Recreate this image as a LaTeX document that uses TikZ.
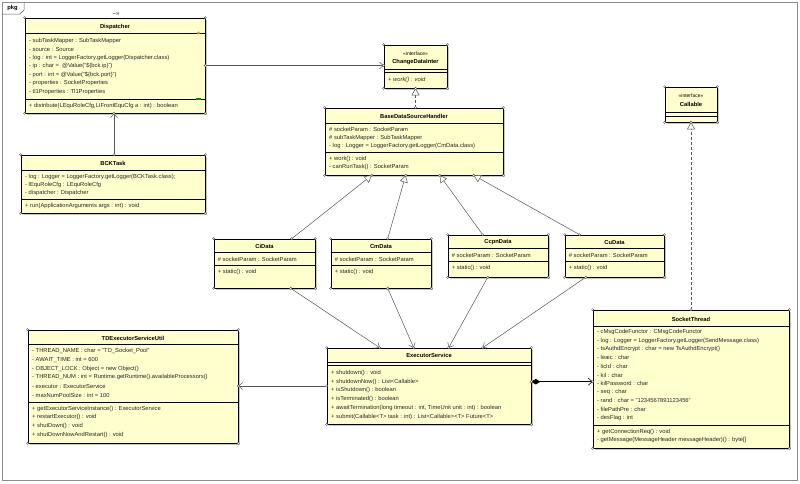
\documentclass[tikz,border=0pt]{standalone}
\usepackage{fontspec}
\setmainfont{Liberation Sans}
\usetikzlibrary{arrows.meta,fit,calc,shadows}
\definecolor{umlfill}{RGB}{255,255,206}
\definecolor{lnk}{RGB}{85,85,85}
\tikzset{
 classbox/.style={draw=black, line width=0.6pt, fill=umlfill, inner sep=0pt,
   drop shadow={shadow xshift=1.6pt, shadow yshift=-1.6pt, fill=black, opacity=0.22}},
 txt/.style={anchor=west, inner sep=0pt, font=\fontsize{5.8}{6}\selectfont, text=black!85},
 ttl/.style={inner sep=0pt, font=\fontsize{5.8}{6}\selectfont\bfseries},
 ster/.style={inner sep=0pt, font=\fontsize{5}{6}\selectfont},
 sepline/.style={draw=black, line width=0.5pt},
 assoc/.style={draw=lnk, line width=0.5pt, -{Straight Barb[length=4pt,width=7pt]}},
 gen/.style={draw=lnk, line width=0.5pt, -{Triangle[open, length=7pt, width=8pt, fill=white]}},
 real/.style={gen, dash pattern=on 3pt off 2pt},
 comp/.style={draw=black, line width=0.6pt, {Diamond[length=9pt,width=5.5pt]}-{Straight Barb[length=4pt,width=7pt]}},
 hdl/.style={fill=white, draw=black!75, line width=0.3pt},
}
\newcommand\dataclass[6]{%
 \node[classbox, fit={(#3,#4) (#5,#6)}] (#1) {};
 \node[ttl] (#1T) at ($(#1.north)+(0,7.5)$) {#2};
 \draw[sepline] ($(#1.north west)+(0,14)$) -- ($(#1.north east)+(0,14)$);
 \node[txt] (#1A0) at ($(#1.north west)+(4,20.5)$) {\# socketParam : SocketParam};
 \draw[sepline] ($(#1.north west)+(0,26.5)$) -- ($(#1.north east)+(0,26.5)$);
 \node[txt] (#1M0) at ($(#1.north west)+(4,33)$) {+ static() : void};
}
\begin{document}
\begin{tikzpicture}[x=1pt,y=-1pt]
\useasboundingbox (0,0) rectangle (800,483);
% package frame
\draw[black!45, line width=0.5pt] (2,2) rectangle (797,480);
\draw[black!65, line width=0.5pt] (2,14) -- (20,14) -- (24,10) -- (24,2);
\node[ttl] (pkg) at (12.5,8) {pkg};

% Dispatcher
\node[classbox, fit={(25,18) (205,113)}] (disp) {};
\node[ster, font=\fontsize{6}{6}\selectfont\bfseries, text=black!70] (dispMark) at (116,14) {–»};
\node[ttl] (dispT) at (115,27) {Dispatcher};
\draw[sepline] (25,33) -- (205,33);
\foreach \t [count=\i from 0] in {
 {- subTaskMapper : SubTaskMapper},
 {- source : Source},
 {- log : int = LoggerFactory.getLogger(Dispatcher.class)},
 {- ip : char =\ \ @Value("\$\{bck.ip\}")},
 {- port : int = @Value("\$\{bck.port\}")},
 {- properties : SocketProperties},
 {- tl1Properties : Tl1Properties}}
 \node[txt] (dispA\i) at (29,40.5+8.5*\i) {\t};
\draw[sepline] (25,99) -- (205,99);
\node[txt] (dispM0) at (29,106) {+ distribute(LEquRoleCfg,LIFrontEquCfg a : int) : boolean};
\fill[orange!90!yellow] (198.5,33) circle (1.6pt);
\fill[green!55!black] (195.5,97.5) rectangle (200.5,99.5);

% BCKTask
\node[classbox, fit={(21,155) (205,213)}] (bck) {};
\node[ttl] (bckT) at (113,163) {BCKTask};
\draw[sepline] (21,170) -- (205,170);
\foreach \t [count=\i from 0] in {
 {- log : Logger = LoggerFactory.getLogger(BCKTask.class);},
 {- lEquRoleCfg : LEquRoleCfg},
 {- dispatcher : Dispatcher}}
 \node[txt] (bckA\i) at (25,177+8*\i) {\t};
\draw[sepline] (21,199) -- (205,199);
\node[txt] (bckM0) at (25,206) {+ run(ApplicationArguments args : int) : void};

% ChangeDataInter
\node[classbox, fit={(384,45) (447,88)}] (cdi) {};
\node[ster] (cdiS) at (415.5,54) {<<interface>>};
\node[ttl] (cdiT) at (415.5,62) {ChangeDataInter};
\draw[sepline] (384,69) -- (447,69);
\draw[sepline] (384,72.5) -- (447,72.5);
\node[txt, font=\fontsize{5.8}{6}\selectfont\itshape] (cdiM0) at (388,79.5) {+ work() : void};

% BaseDataSourceHandler
\node[classbox, fit={(325,108) (503,175)}] (bdsh) {};
\node[ttl] (bdshT) at (414,116) {BaseDataSourceHandler};
\draw[sepline] (325,123) -- (503,123);
\foreach \t [count=\i from 0] in {
 {\# socketParam : SocketParam},
 {\# subTaskMapper : SubTaskMapper},
 {- log : Logger = LoggerFactory.getLogger(CmData.class)}}
 \node[txt] (bdshA\i) at (329,129.5+8*\i) {\t};
\draw[sepline] (325,152) -- (503,152);
\node[txt] (bdshM0) at (329,158.5) {+ work() : void};
\node[txt] (bdshM1) at (329,167) {- canRunTask() : SocketParam};

% data classes
\dataclass{ci}{CiData}{214}{239}{315}{288}
\dataclass{cm}{CmData}{331}{239}{431}{288}
\dataclass{ccpn}{CcpnData}{448}{235}{548}{277}
\dataclass{cu}{CuData}{565}{235}{664}{277}

% Callable
\node[classbox, fit={(665,87) (717,122)}] (cal) {};
\node[ster] (calS) at (691,96) {<<interface>>};
\node[ttl] (calT) at (691,104) {Callable};
\draw[sepline] (665,112) -- (717,112);
\draw[sepline] (665,116.5) -- (717,116.5);

% ExecutorService
\node[classbox, fit={(327,348) (531,424)}] (ese) {};
\node[ttl] (eseT) at (429,355.5) {ExecutorService};
\draw[sepline] (327,362.5) -- (531,362.5);
\draw[sepline] (327,365.5) -- (531,365.5);
\foreach \t [count=\i from 0] in {
 {+ shutdown() : void},
 {+ shutdownNow() : List<Callable>},
 {+ isShutdown() : boolean},
 {+ isTerminated() : boolean},
 {+ awaitTermination(long timeout : int, TimeUnit unit : int) : boolean},
 {+ submit(Callable<T> task : int) : List<Callable><T> Future<T>}}
 \node[txt] (eseM\i) at (331,373+8.7*\i) {\t};

% TDExecutorServiceUtil
\node[classbox, fit={(28,330) (238,443)}] (td) {};
\node[ttl] (tdT) at (133,338) {TDExecutorServiceUtil};
\draw[sepline] (28,344) -- (238,344);
\foreach \t [count=\i from 0] in {
 {- THREAD\_NAME : char = "TD\_Socket\_Pool"},
 {- AWAIT\_TIME : int = 600},
 {- OBJECT\_LOCK : Object = new Object()},
 {- THREAD\_NUM : int = Runtime.getRuntime().availableProcessors()},
 {- executor : ExecutorService},
 {- maxNumPoolSize : int = 100}}
 \node[txt] (tdA\i) at (32,351+8.8*\i) {\t};
\draw[sepline] (28,402) -- (238,402);
\foreach \t [count=\i from 0] in {
 {+ getExecutorServiceInstance() : ExecutorService},
 {+ restartExecutor() : void},
 {+ shutDown() : void},
 {+ shutDownNowAndRestart() : void}}
 \node[txt] (tdM\i) at (32,408.5+8.7*\i) {\t};

% SocketThread
\node[classbox, fit={(593,310) (789,448)}] (st) {};
\node[ttl] (stT) at (691,319) {SocketThread};
\draw[sepline] (593,326) -- (789,326);
\foreach \t [count=\i from 0] in {
 {- cMsgCodeFunctor : CMsgCodeFunctor},
 {- log : Logger = LoggerFactory.getLogger(SendMessage.class)},
 {- tsAuthdEncrypt : char = new TsAuthdEncrypt()},
 {- leaic : char},
 {- licId : char},
 {- kil : char},
 {- kilPassword : char},
 {- seq : char},
 {- rand : char = "1234567891123456"},
 {- filePathPre : char},
 {- desFlag : int}}
 \node[txt] (stA\i) at (597,332+8.6*\i) {\t};
\draw[sepline] (593,425) -- (789,425);
\node[txt] (stM0) at (597,431.5) {+ getConnectionReq() : void};
\node[txt] (stM1) at (597,440) {- getMessage(MessageHeader messageHeader)() : byte[]};

% connector end points
\coordinate (bckUp) at ($(bck.north)+(1,0)$);
\coordinate (dispDn) at (bckUp |- disp.south);
\coordinate (cdiIn) at (disp.east -| cdi.west);
\coordinate (cdiDn) at (cdi.south);
\coordinate (bdshUp) at (cdi.south |- bdsh.north);
\coordinate (ciUp) at ($(ci.north west)+(78,0)$);
\coordinate (cmUp) at ($(cm.north west)+(57,0)$);
\coordinate (ccpnUp) at ($(ccpn.north west)+(35,0)$);
\coordinate (cuUp) at ($(cu.north west)+(15,0)$);
\coordinate (g1) at ($(bdsh.south west)+(47,0)$);
\coordinate (g2) at ($(bdsh.south west)+(81,0)$);
\coordinate (g3) at ($(bdsh.south west)+(115,0)$);
\coordinate (g4) at ($(bdsh.south west)+(149,0)$);
\coordinate (ciDn) at ($(ci.south west)+(77,0)$);
\coordinate (cmDn) at ($(cm.south west)+(57,0)$);
\coordinate (ccpnDn) at ($(ccpn.south west)+(40,0)$);
\coordinate (cuDn) at ($(cu.south west)+(21,0)$);
\coordinate (e1) at ($(ese.north west)+(53,0)$);
\coordinate (e2) at ($(ese.north west)+(87,0)$);
\coordinate (e3) at ($(ese.north west)+(122,0)$);
\coordinate (e4) at ($(ese.north west)+(156,0)$);
\coordinate (tdIn) at (ese.west -| td.east);
\coordinate (compS) at ($(ese.north east)+(0,34)$);
\coordinate (stIn) at (compS -| st.west);

% connectors
\draw[assoc] (disp.east) -- (cdiIn);
\draw[assoc] (bckUp) -- (dispDn);
\draw[real] (bdshUp) -- (cdiDn);
\draw[gen] (ciUp) -- (g1);
\draw[gen] (cmUp) -- (g2);
\draw[gen] (ccpnUp) -- (g3);
\draw[gen] (cuUp) -- (g4);
\draw[assoc] (ciDn) -- (e1);
\draw[assoc] (cmDn) -- (e2);
\draw[assoc] (ccpnDn) -- (e3);
\draw[assoc] (cuDn) -- (e4);
\draw[assoc] (ese.west) -- (tdIn);
\draw[comp] (compS) -- (stIn);
\draw[real] (st.north) -- (cal.south);

% selection handles
\foreach \n in {disp,bck,cdi,bdsh,ci,cm,ccpn,cu,cal,ese,td,st}{
 \foreach \a in {north west,north east,south west,south east}{
  \filldraw[hdl] (\n.\a) circle (1.2pt);}}
\foreach \c in {disp.east,cdiIn,bckUp,dispDn,bdshUp,cdiDn,ciUp,cmUp,ccpnUp,cuUp,g1,g2,g3,g4,ciDn,cmDn,ccpnDn,cuDn,e1,e2,e3,e4,ese.west,tdIn,compS,stIn,st.north,cal.south}
 \filldraw[hdl] (\c) circle (1.2pt);
\end{tikzpicture}
\end{document}
